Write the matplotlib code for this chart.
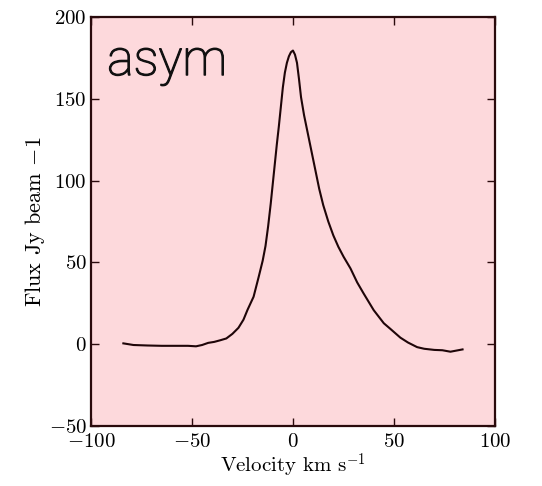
import matplotlib
matplotlib.use("Agg")
import matplotlib.pyplot as plt
import matplotlib.patheffects as pe

plt.rcParams["font.family"] = "serif"
plt.rcParams["font.serif"] = ["cmr10"]
plt.rcParams["mathtext.fontset"] = "cm"
plt.rcParams["axes.formatter.use_mathtext"] = True
plt.rcParams["axes.unicode_minus"] = True

# Line profile: velocity (km/s) and flux
velocity = [-84, -79, -72, -65, -58, -52, -48, -45, -42, -39, -36, -33,
            -30, -27, -24.5, -22.5, -19.5, -17, -15, -13.6, -12.3, -11,
            -10, -9, -8, -7, -6, -5, -4, -3, -2, -1, 0, 1, 2, 3, 4, 5.5,
            7, 8.5, 10, 11.5, 13, 15, 17.5, 20, 22.5, 25.1, 28.5, 31.8,
            35, 40, 45, 48.3, 53.2, 57, 61.5, 65, 70, 74, 78, 81, 84]
flux = [0.5, -0.5, -0.8, -1.0, -1.0, -1.0, -1.3, -0.5, 0.8, 1.4, 2.4, 3.5,
        6.3, 10.0, 15.0, 21.0, 29.0, 41.0, 51.0, 60.0, 72.0, 86.0,
        98.0, 110.0, 122.0, 133.0, 145.0, 157.0, 166.0, 172.0, 176.0,
        178.5, 179.5, 177.0, 172.0, 162.0, 151.0, 140.0,
        131.0, 122.0, 113.0, 104.0, 95.0, 85.0, 75.0, 66.5, 59.5, 53.4,
        46.3, 37.8, 31.0, 20.8, 12.8, 9.3, 4.0, 1.0, -1.8, -2.8, -3.5,
        -3.7, -4.6, -3.9, -3.2]

x_ticks = [-100, -50, 0, 50, 100]
y_ticks = [-50, 0, 50, 100, 150, 200]

edge = "#2a0a0c"

fig = plt.figure(figsize=(5.42, 4.86), dpi=100)
ax = fig.add_axes([0.168, 0.1235, 0.745, 0.8415])
ax.set_facecolor("#fdd9dc")

ax.plot(velocity, flux, color="#1e0508", lw=1.5)

ax.set_xlim(-100, 100)
ax.set_ylim(-50, 200)
ax.set_xticks(x_ticks)
ax.set_yticks(y_ticks)
ax.tick_params(direction="in", length=6, width=1, color=edge,
               top=True, right=True, labelsize=15, pad=3)
ax.tick_params(axis="x", pad=5)
for s in ax.spines.values():
    s.set_color(edge)
    s.set_linewidth(1.6)

ax.set_xlabel(r"Velocity km s$^{-1}$", fontsize=15, labelpad=1)
ax.set_ylabel(r"Flux Jy beam $-1$", fontsize=16, labelpad=1)

ax.text(0.04, 0.858, "asym", transform=ax.transAxes, fontsize=36,
        family="Roboto", weight="light", color="#111111",
        va="baseline", ha="left",
        path_effects=[pe.withStroke(linewidth=0.9, foreground="#111111")])

fig.savefig("out.png", dpi=100)
